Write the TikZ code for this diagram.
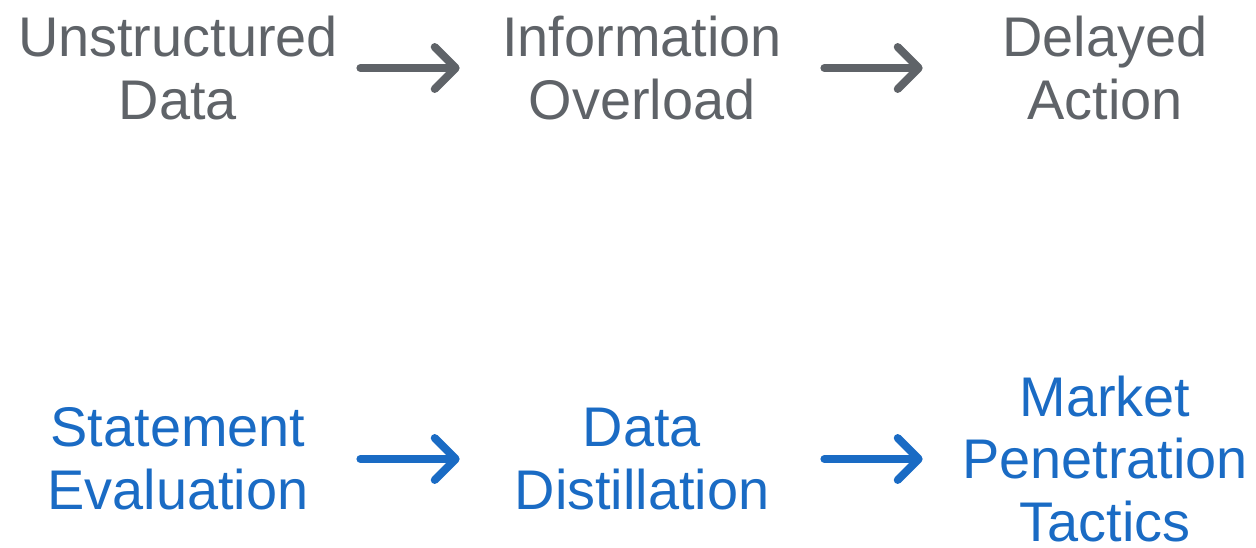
\documentclass[tikz,border=0pt]{standalone}
\usepackage{fontspec}
\setmainfont{Liberation Sans}
\usetikzlibrary{arrows.meta}
\definecolor{greyword}{HTML}{5F6368}
\definecolor{blueword}{HTML}{1A6BC4}
\begin{document}
\begin{tikzpicture}[
        word/.style={inner sep=0pt, text width=7.28cm, align=center,
                     font=\fontsize{31.8}{35.6}\selectfont},
        flow/.style={line width=4.5pt, line cap=round,
                     -{Straight Barb[length=0.42cm, width=0.84cm, round]}}
    ]
    \useasboundingbox (0,0) rectangle (25.12,-10.94);

    \begin{scope}[every node/.style={word, text=greyword}]
        \node (unstr) at (3.56,-1.36) {Unstructured\\Data};
        \node (overl) at (12.84,-1.36) {Information\\Overload};
        \node (delay) at (22.10,-1.36) {Delayed\\Action};
    \end{scope}
    \draw[flow, greyword] (unstr.east) -- (overl.west);
    \draw[flow, greyword] (overl.east) -- (delay.west);

    \begin{scope}[every node/.style={word, text=blueword}]
        \node (stmt) at (3.56,-9.18) {Statement\\Evaluation};
        \node (distil) at (12.84,-9.18) {Data\\Distillation};
        \node (market) at (22.10,-9.18) {Market\\Penetration\\Tactics};
    \end{scope}
    \draw[flow, blueword] (stmt.east) -- (distil.west);
    \draw[flow, blueword] (distil.east) -- (market.west);
\end{tikzpicture}
\end{document}
